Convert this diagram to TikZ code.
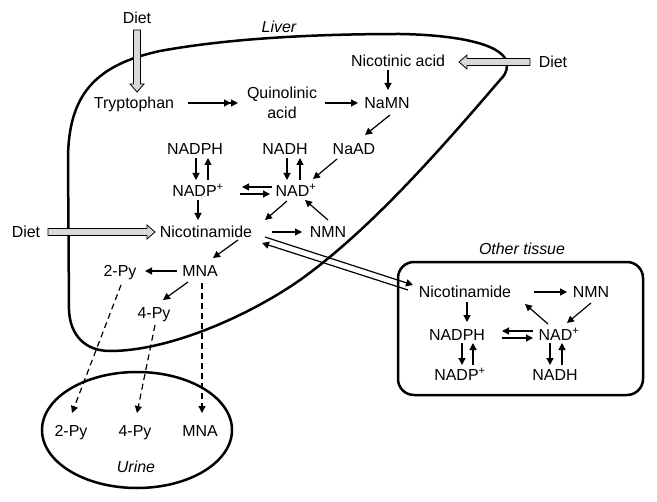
\documentclass[tikz,border=0pt]{standalone}
\usepackage{fontspec}
\setmainfont{Liberation Sans}
\usetikzlibrary{arrows.meta}
\usetikzlibrary{calc}

\tikzset{
  lbl/.style={font=\fontsize{16}{20}\selectfont, inner sep=0pt, text height=11.5bp, text depth=0pt},
  ital/.style={lbl, font=\fontsize{16}{20}\selectfont\itshape},
  organ/.style={line width=2.5bp},
  arr/.style={line width=1.2bp, -{Triangle[length=7bp,width=7bp]}},
  dasharr/.style={arr, dash pattern=on 6bp off 4bp},
  fat/.style={draw, fill=gray!30, line width=0.8bp,
    to path={let \p1=(\tikztostart), \p2=(\tikztotarget),
      \n1={atan2(\y2-\y1,\x2-\x1)}, \n2={veclen(\x2-\x1,\y2-\y1)} in
      [shift={(\p1)}, rotate=\n1]
      (0pt,-3.5bp) -- ({(\n2)*1pt-8bp},-3.5bp) -- ({(\n2)*1pt-8bp},-7bp) -- ({(\n2)*1pt},0pt)
      -- ({(\n2)*1pt-8bp},7bp) -- ({(\n2)*1pt-8bp},3.5bp) -- (0pt,3.5bp) -- cycle}}
}

\begin{document}
\begin{tikzpicture}[x=1bp,y=-1bp]
  \useasboundingbox (0,0) rectangle (657,502);
  % compartments
  \draw[organ] (68,160) .. controls (68,95) and (95,65) .. (160,51)
    .. controls (220,40) and (300,34) .. (400,34)
    .. controls (460,35) and (507,45) .. (507,65)
    .. controls (507,72) and (504,76) .. (500,80)
    .. controls (440,150) and (370,230) .. (300,280)
    .. controls (250,315) and (170,351) .. (110,351)
    .. controls (85,351) and (70,335) .. (69,310) -- cycle;
  \draw[organ] (137,430) ellipse [x radius=95, y radius=58];
  \draw[organ, rounded corners=16bp] (398,262) rectangle (643,395);
  \node[ital] (liver) at (279,27) {Liver};
  \node[ital] (urine) at (136,467) {Urine};
  \node[ital] (other) at (522,249) {Other tissue};

  % liver
  \node[lbl] (dietT) at (137,18) {Diet};
  \node[lbl] (trp) at (134,103) {Tryptophan};
  \node[font=\fontsize{16}{20}\selectfont, align=center, inner sep=0pt] (quin) at (282,103) {Quinolinic\\acid};
  \node[lbl] (nicacid) at (398,61) {Nicotinic acid};
  \node[lbl] (dietR) at (553,62) {Diet};
  \node[lbl] (namn) at (387,103) {NaMN};
  \node[lbl] (naad) at (354,149) {NaAD};
  \node[lbl] (nadph) at (195,149) {NADPH};
  \node[lbl] (nadh) at (285,149) {NADH};
  \node[lbl] (nadp) at (198,191) {NADP\textsuperscript{+}};
  \node[lbl] (nad) at (296,191) {NAD\textsuperscript{+}};
  \node[lbl] (dietL) at (26,232) {Diet};
  \node[lbl] (nam) at (206,232) {Nicotinamide};
  \node[lbl] (nmn) at (328,232) {NMN};
  \node[lbl] (py2) at (120,271) {2-Py};
  \node[lbl] (mna) at (200,271) {MNA};
  \node[lbl] (py4) at (154,313) {4-Py};

  % urine
  \node[lbl] (uPy2) at (71,431) {2-Py};
  \node[lbl] (uPy4) at (135,431) {4-Py};
  \node[lbl] (uMna) at (200,431) {MNA};

  % other tissue
  \node[lbl] (namO) at (465,292) {Nicotinamide};
  \node[lbl] (nmnO) at (591,292) {NMN};
  \node[lbl] (nadphO) at (457,335) {NADPH};
  \node[lbl] (nadO) at (559,335) {NAD\textsuperscript{+}};
  \node[lbl] (nadpO) at (460,375) {NADP\textsuperscript{+}};
  \node[lbl] (nadhO) at (555,375) {NADH};

  % diet
  \draw[fat] ($(dietT)+(0,12)$) to ($(trp)+(3,-11)$);
  \draw[fat] ($(dietR)+(-23,0)$) to ($(nicacid)+(61,1)$);
  \draw[fat] ($(dietL)+(22,0)$) to ($(nam)+(-51,0)$);

  % liver pathway
  \draw[arr, -{Triangle[length=7bp,width=7bp]Triangle[length=7bp,width=7bp]}] ($(trp)+(54,0)$) -- ($(quin)+(-44,0)$);
  \draw[arr] ($(quin)+(43,0)$) -- ($(namn)+(-29,0)$);
  \draw[arr] ($(nicacid)+(-10,9)$) -- ($(namn)+(1,-13)$);
  \draw[arr] ($(namn)+(3,12)$) -- ($(naad)+(11,-14)$);
  \draw[arr] ($(naad)+(-17,10)$) -- ($(nad)+(17,-12)$);
  \draw[arr] ($(nadph)+(1,9)$) -- ($(nadp)+(-2,-11)$);
  \draw[arr] ($(nadp)+(10,-11)$) -- ($(nadph)+(13,9)$);
  \draw[arr] ($(nadh)+(2,9)$) -- ($(nad)+(-9,-11)$);
  \draw[arr] ($(nad)+(4,-11)$) -- ($(nadh)+(15,9)$);
  \draw[arr] ($(nad)+(-24,-4)$) -- ($(nadp)+(44,-4)$);
  \draw[arr] ($(nadp)+(42,3)$) -- ($(nad)+(-26,3)$);
  \draw[arr] ($(nadp)+(0,9)$) -- ($(nam)+(-8,-12)$);
  \draw[arr] ($(nad)+(-9,10)$) -- ($(nam)+(59,-12)$);
  \draw[arr] ($(nmn)+(0,-12)$) -- ($(nad)+(9,9)$);
  \draw[arr] ($(nam)+(66,0)$) -- ($(nmn)+(-26,0)$);
  \draw[arr] ($(nam)+(32,8)$) -- ($(mna)+(13,-13)$);
  \draw[arr] ($(mna)+(-23,0)$) -- ($(py2)+(25,0)$);
  \draw[arr] ($(mna)+(-12,11)$) -- ($(py4)+(9,-13)$);

  % excretion
  \draw[dasharr] ($(py2)+(1,14)$) -- ($(uPy2)+(1,-18)$);
  \draw[dasharr] ($(py4)+(1,12)$) -- ($(uPy4)+(2,-18)$);
  \draw[dasharr] ($(mna)+(2,12)$) -- ($(uMna)+(2,-18)$);

  % exchange with other tissue
  \draw[arr] ($(nam)+(59,5)$) -- ($(namO)+(-52,-7)$);
  \draw[arr] ($(namO)+(-57,-2)$) -- ($(nam)+(56,11)$);

  % other tissue pathway
  \draw[arr] ($(namO)+(2,10)$) -- ($(nadphO)+(10,-13)$);
  \draw[arr] ($(namO)+(69,0)$) -- ($(nmnO)+(-24,0)$);
  \draw[arr] ($(nmnO)+(0,11)$) -- ($(nadO)+(8,-12)$);
  \draw[arr] ($(nadO)+(-11,-11)$) -- ($(namO)+(60,12)$);
  \draw[arr] ($(nadO)+(-26,-4)$) -- ($(nadphO)+(45,-4)$);
  \draw[arr] ($(nadphO)+(45,3)$) -- ($(nadO)+(-26,3)$);
  \draw[arr] ($(nadphO)+(5,8)$) -- ($(nadpO)+(2,-10)$);
  \draw[arr] ($(nadpO)+(13,-10)$) -- ($(nadphO)+(16,8)$);
  \draw[arr] ($(nadO)+(-9,8)$) -- ($(nadhO)+(-5,-10)$);
  \draw[arr] ($(nadhO)+(7,-10)$) -- ($(nadO)+(3,8)$);
\end{tikzpicture}
\end{document}
